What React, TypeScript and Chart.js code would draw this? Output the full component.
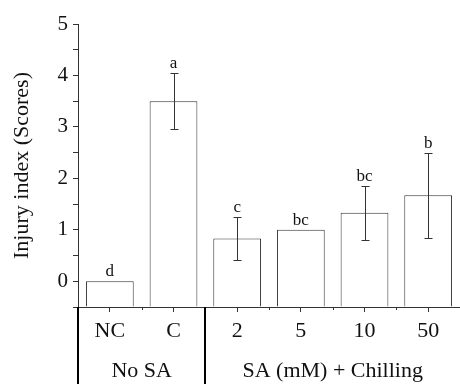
import React, { useEffect, useRef } from "react";
import { Chart, registerables } from "chart.js";

Chart.register(...registerables);

const categories = ["NC", "C", "2", "5", "10", "50"];
const means = [0, 3.5, 0.83, 1.0, 1.33, 1.67];
const errors = [0, 0.55, 0.41, 0, 0.52, 0.82];
const letters = ["d", "a", "c", "bc", "bc", "b"];
const groupLabels = ["No SA", "SA (mM) + Chilling"];
const groupStart = [0, 2];
const groupEnd = [1, 5];
const yTitle = "Injury index (Scores)";

const INK = "#333";
const SERIF = "'Liberation Serif', 'Times New Roman', serif";

const annotPlugin = {
  id: "annot",
  afterDatasetsDraw(chart: any) {
    const ctx = chart.ctx;
    const x = chart.scales.x;
    const y = chart.scales.y;
    const area = chart.chartArea;
    ctx.save();
    // error bars
    ctx.strokeStyle = INK;
    ctx.lineWidth = 1;
    means.forEach((m, i) => {
      const e = errors[i];
      if (!e) return;
      const cx = Math.round(x.getPixelForValue(i)) + 0.5;
      const yt = Math.round(y.getPixelForValue(m + e)) + 0.5;
      const yb = Math.round(y.getPixelForValue(m - e)) + 0.5;
      ctx.beginPath();
      ctx.moveTo(cx, yt);
      ctx.lineTo(cx, yb);
      ctx.moveTo(cx - 4, yt);
      ctx.lineTo(cx + 4, yt);
      ctx.moveTo(cx - 4, yb);
      ctx.lineTo(cx + 4, yb);
      ctx.stroke();
    });
    // letters
    ctx.fillStyle = "#111";
    ctx.font = `17px ${SERIF}`;
    ctx.textAlign = "center";
    ctx.textBaseline = "alphabetic";
    means.forEach((m, i) => {
      const cx = x.getPixelForValue(i);
      const top = y.getPixelForValue(m + errors[i]);
      ctx.fillText(letters[i], cx, top - 5);
    });
    // minor x ticks at category boundaries
    const bottom = area.bottom;
    ctx.strokeStyle = INK;
    ctx.lineWidth = 1;
    for (let i = 0; i < categories.length - 1; i++) {
      const bx = Math.round((x.getPixelForValue(i) + x.getPixelForValue(i + 1)) / 2) + 0.5;
      ctx.beginPath();
      ctx.moveTo(bx, bottom);
      ctx.lineTo(bx, bottom + 3);
      ctx.stroke();
    }
    // group separators
    ctx.strokeStyle = "#000";
    ctx.lineWidth = 2;
    const seps = [area.left];
    for (let g = 1; g < groupStart.length; g++) {
      seps.push((x.getPixelForValue(groupStart[g] - 1) + x.getPixelForValue(groupStart[g])) / 2);
    }
    seps.forEach((sx) => {
      const px = Math.round(sx);
      ctx.beginPath();
      ctx.moveTo(px, bottom);
      ctx.lineTo(px, chart.height);
      ctx.stroke();
    });
    // group labels
    ctx.fillStyle = "#111";
    ctx.font = `22px ${SERIF}`;
    ctx.textAlign = "center";
    groupLabels.forEach((lab, g) => {
      const cx = (x.getPixelForValue(groupStart[g]) + x.getPixelForValue(groupEnd[g])) / 2;
      ctx.fillText(lab, cx, 377);
    });
    ctx.restore();
  },
};

export default function App() {
  const ref = useRef<HTMLCanvasElement | null>(null);
  useEffect(() => {
    if (!ref.current) return;
    const chart = new Chart(ref.current, {
      type: "bar",
      data: {
        labels: categories,
        datasets: [
          {
            data: means,
            base: -0.5,
            backgroundColor: "#fff",
            borderColor: INK,
            borderWidth: 1,
            barPercentage: 0.75,
            categoryPercentage: 1,
          } as any,
        ],
      },
      options: {
        responsive: true,
        maintainAspectRatio: false,
        animation: false,
        layout: { padding: { top: 24, right: 0, left: 0, bottom: 0 } },
        plugins: { legend: { display: false }, tooltip: { enabled: false } },
        scales: {
          x: {
            offset: true,
            grid: {
              display: true,
              offset: false,
              drawOnChartArea: false,
              tickLength: 5,
              color: INK,
            },
            border: { display: true, color: INK, width: 1 },
            ticks: {
              color: "#111",
              font: { family: SERIF, size: 22 },
              padding: 6,
              maxRotation: 0,
              autoSkip: false,
            },
            afterFit: (s: any) => {
              s.height = 77;
            },
          },
          y: {
            min: -0.5,
            max: 5,
            grid: { drawOnChartArea: false, tickLength: 5, color: INK },
            border: { display: true, color: INK, width: 1 },
            ticks: {
              stepSize: 0.5,
              autoSkip: false,
              color: "#111",
              font: { family: SERIF, size: 21 },
              padding: 5,
              callback: (v: any) => {
                const n = Number(v);
                return Math.abs(n - Math.round(n)) < 1e-6 && n >= 0 ? String(Math.round(n)) : "";
              },
            },
            title: {
              display: true,
              text: yTitle,
              color: "#111",
              font: { family: SERIF, size: 22 },
              padding: { top: 9, bottom: 0 },
            },
            afterFit: (s: any) => {
              s.width = 78;
            },
          },
        },
      },
      plugins: [annotPlugin],
    });
    return () => chart.destroy();
  }, []);
  return (
    <div style={{ position: "fixed", left: 0, top: 0, width: 460, height: 384, background: "#fff" }}>
      <canvas ref={ref} />
    </div>
  );
}
